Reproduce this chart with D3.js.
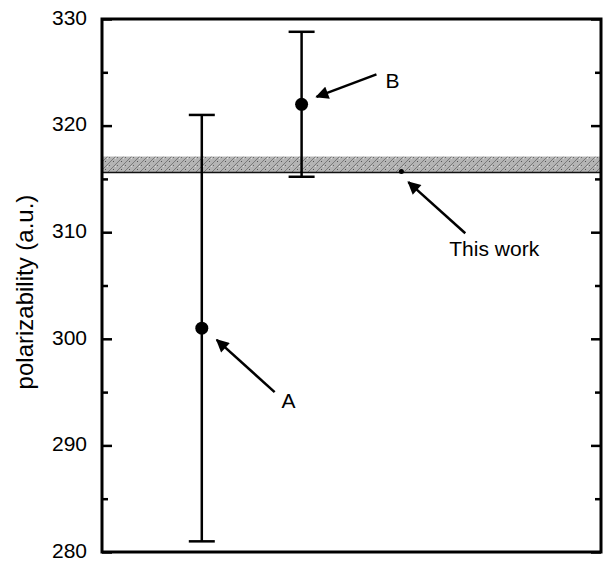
<!DOCTYPE html>
<html>
<head>
<meta charset="utf-8">
<script src="https://cdn.jsdelivr.net/npm/d3@7"></script>
<style>
  body { margin: 0; background: #fff; overflow: hidden; }
  svg { display: block; }
  text { font-family: "Liberation Sans", Arial, sans-serif; fill: #000; }
</style>
</head>
<body>
<div class="chart-cont"></div>
<script>
// measured values (a.u.)
var labels = ['A', 'B'];
var positions = [1, 2];
var values = [301, 322];
var errLow = [281, 315.2];
var errHigh = [321, 328.8];

// "This work" band
var bandRange = [315.6, 317.1];
var bandPoint = [3, 315.7];

var majorTicks = [280, 290, 300, 310, 320, 330];
var minorTicks = [285, 295, 305, 315, 325];

// annotation arrows: [tailX, tailY, tipX, tipY] in data units, plus text anchor
var arrows = [
    {text: 'A', tail: [1.73, 295.0], tip: [1.15, 299.9], label: [1.87, 293.5]},
    {text: 'B', tail: [2.75, 324.8], tip: [2.15, 322.7], label: [2.91, 323.5]},
    {text: 'This work', tail: [3.64, 309.9], tip: [3.07, 314.7], label: [3.93, 307.8]}
];

function drawChart() {
    var w = 608, h = 561;
    var margin = {left: 102, right: 7, top: 19, bottom: 9};

    var x = d3.scaleLinear().domain([0, 5]).range([margin.left, w - margin.right]);
    var y = d3.scaleLinear().domain([280, 330]).range([h - margin.bottom, margin.top]);

    var svg = d3.select(".chart-cont").append("svg")
        .attr("width", w)
        .attr("height", h);

    var defs = svg.append("defs");
    var pat = defs.append("pattern")
        .attr("id", "hatch")
        .attr("patternUnits", "userSpaceOnUse")
        .attr("width", 8)
        .attr("height", 8);
    pat.append("rect").attr("width", 8).attr("height", 8).attr("fill", "#b4b4b4");
    pat.append("path").attr("d", "M0,8 L8,0").attr("stroke", "#7a7a7a").attr("stroke-width", 1);
    pat.append("rect").attr("x", 1).attr("y", 1).attr("width", 1).attr("height", 1).attr("fill", "#555");
    pat.append("rect").attr("x", 5).attr("y", 5).attr("width", 1).attr("height", 1).attr("fill", "#666");
    pat.append("rect").attr("x", 3).attr("y", 6).attr("width", 1).attr("height", 1).attr("fill", "#ddd");

    var markerDef = defs.append("marker")
        .attr("id", "arrowhead")
        .attr("viewBox", "0 0 10 10")
        .attr("refX", 9)
        .attr("refY", 5)
        .attr("markerUnits", "userSpaceOnUse")
        .attr("markerWidth", 15)
        .attr("markerHeight", 13)
        .attr("orient", "auto");
    markerDef.append("path").attr("d", "M0,0 L10,5 L0,10 Z").attr("fill", "#000");

    // band
    svg.append("rect")
        .attr("x", x(0))
        .attr("width", x(5) - x(0))
        .attr("y", y(bandRange[1]))
        .attr("height", y(bandRange[0]) - y(bandRange[1]))
        .attr("fill", "url(#hatch)");
    svg.append("line")
        .attr("x1", x(0)).attr("x2", x(5))
        .attr("y1", y(bandRange[0])).attr("y2", y(bandRange[0]))
        .attr("stroke", "#111").attr("stroke-width", 1.5);
    svg.append("circle")
        .attr("cx", x(bandPoint[0])).attr("cy", y(bandPoint[1]))
        .attr("r", 2.5).attr("fill", "#000");

    // axes
    var yl = svg.append("g")
        .attr("transform", "translate(" + x(0) + ",0)")
        .call(d3.axisLeft(y).tickValues(majorTicks).tickSize(-10).tickPadding(15));
    yl.select(".domain").remove();
    yl.selectAll("text")
        .attr("dy", "0.25em")
        .style("font-size", "21px")
        .style("font-family", "'Liberation Sans', Arial, sans-serif");
    yl.selectAll("line").attr("stroke-width", 2.5);

    var ylm = svg.append("g")
        .attr("transform", "translate(" + x(0) + ",0)")
        .call(d3.axisLeft(y).tickValues(minorTicks).tickSize(-6).tickFormat(""));
    ylm.select(".domain").remove();
    ylm.selectAll("line").attr("stroke-width", 2.5);

    var yr = svg.append("g")
        .attr("transform", "translate(" + x(5) + ",0)")
        .call(d3.axisRight(y).tickValues(majorTicks).tickSize(-10).tickFormat(""));
    yr.select(".domain").remove();
    yr.selectAll("line").attr("stroke-width", 2.5);

    var yrm = svg.append("g")
        .attr("transform", "translate(" + x(5) + ",0)")
        .call(d3.axisRight(y).tickValues(minorTicks).tickSize(-6).tickFormat(""));
    yrm.select(".domain").remove();
    yrm.selectAll("line").attr("stroke-width", 2.5);

    // frame
    svg.append("rect")
        .attr("x", x(0)).attr("y", y(330))
        .attr("width", x(5) - x(0)).attr("height", y(280) - y(330))
        .attr("fill", "none")
        .attr("stroke", "#000")
        .attr("stroke-width", 3);

    svg.append("text")
        .attr("transform", "translate(33," + 292 + ")rotate(-90)")
        .attr("text-anchor", "middle")
        .style("font-size", "24px")
        .text("polarizability (a.u.)");

    // error bars
    var data = labels.map(function(d, i) {
        return {label: d, x: positions[i], v: values[i], lo: errLow[i], hi: errHigh[i]};
    });
    var bars = svg.append("g").selectAll("g").data(data).enter().append("g");
    bars.append("line")
        .attr("x1", function(d) { return x(d.x); })
        .attr("x2", function(d) { return x(d.x); })
        .attr("y1", function(d) { return y(d.lo); })
        .attr("y2", function(d) { return y(d.hi); })
        .attr("stroke", "#000").attr("stroke-width", 2.5);
    [ "lo", "hi" ].forEach(function(k) {
        bars.append("line")
            .attr("x1", function(d) { return x(d.x) - 13; })
            .attr("x2", function(d) { return x(d.x) + 13; })
            .attr("y1", function(d) { return y(d[k]); })
            .attr("y2", function(d) { return y(d[k]); })
            .attr("stroke", "#000").attr("stroke-width", 2.5);
    });
    bars.append("circle")
        .attr("cx", function(d) { return x(d.x); })
        .attr("cy", function(d) { return y(d.v); })
        .attr("r", 6.5)
        .attr("fill", "#000");

    // annotations
    var ann = svg.append("g").selectAll("g").data(arrows).enter().append("g");
    ann.append("line")
        .attr("x1", function(d) { return x(d.tail[0]); })
        .attr("y1", function(d) { return y(d.tail[1]); })
        .attr("x2", function(d) { return x(d.tip[0]); })
        .attr("y2", function(d) { return y(d.tip[1]); })
        .attr("stroke", "#000")
        .attr("stroke-width", 2.5)
        .attr("marker-end", "url(#arrowhead)");
    ann.append("text")
        .attr("x", function(d) { return x(d.label[0]); })
        .attr("y", function(d) { return y(d.label[1]); })
        .attr("text-anchor", "middle")
        .style("font-size", "21px")
        .text(function(d) { return d.text; });
}

drawChart();
</script>
</body>
</html>
